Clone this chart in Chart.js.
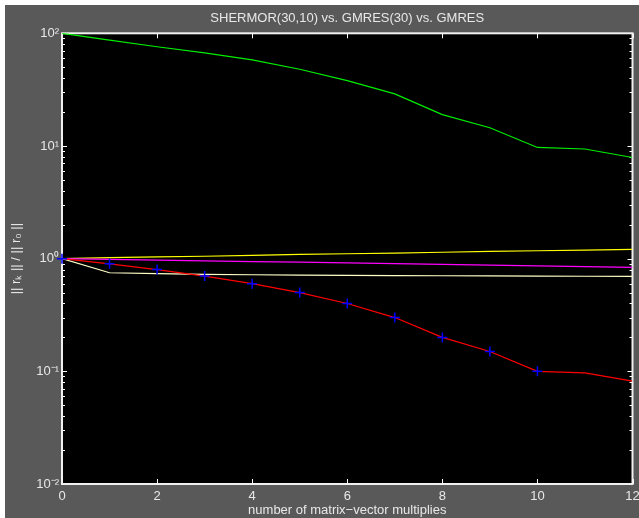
<!DOCTYPE html>
<html>
<head>
<meta charset="utf-8">
<script src="https://cdn.jsdelivr.net/npm/chart.js@4/dist/chart.umd.min.js"></script>
<style>
html,body{margin:0;padding:0;background:#fff;}
#wrap{width:639px;height:518px;position:relative;}
</style>
</head>
<body>
<div id="wrap"><canvas id="c" width="639" height="518"></canvas></div>
<script>
// ---- data ----
const iterations = [0,1,2,3,4,5,6,7,8,9,10,11,12];
const shermorGreen = [100, 87, 76, 67, 58, 48, 38, 29, 19, 14.5, 9.7, 9.4, 7.9];
const gmresYellow = [1.0, 1.02, 1.035, 1.05, 1.07, 1.09, 1.105, 1.12, 1.14, 1.16, 1.175, 1.19, 1.21];
const gmresMagenta = [1.0, 0.985, 0.97, 0.955, 0.94, 0.93, 0.918, 0.905, 0.89, 0.875, 0.862, 0.85, 0.838];
const gmresCream = [1.0, 0.75, 0.735, 0.725, 0.72, 0.715, 0.71, 0.708, 0.705, 0.703, 0.7, 0.698, 0.695];
const redLine = [1.0, 0.9, 0.8, 0.7, 0.6, 0.5, 0.4, 0.3, 0.2, 0.15, 0.1, 0.097, 0.082];
const markerIters = [0,1,2,3,4,5,6,7,8,9,10];
const markerValues = [1.0, 0.9, 0.8, 0.7, 0.6, 0.5, 0.4, 0.3, 0.2, 0.15, 0.1];
const xTickValues = [0,2,4,6,8,10,12];
const yMajorTicks = [0.01, 0.1, 1, 10, 100];
const yTickLabels = ['10⁻²','10⁻¹','10⁰','10¹','10²'];
const titleText = 'SHERMOR(30,10) vs. GMRES(30) vs. GMRES';
const xTitle = 'number of matrix−vector multiplies';
const yTitle = '|| rₖ || / || r₀ ||';

const pts = (xs, ys) => xs.map((x,i)=>({x:x, y:ys[i]}));
const yMinor = [];
yMajorTicks.slice(0,-1).forEach(d=>{ for(let m=2;m<=9;m++) yMinor.push(d*m); });

const FG = '#e8e8e8';
const BG = '#595959';
const FONT = 'Liberation Sans, Arial, sans-serif';

const framePlugin = {
  id:'frame',
  beforeDraw(chart){
    const ctx = chart.ctx, a = chart.chartArea;
    ctx.save();
    ctx.fillStyle = '#ffffff';
    ctx.fillRect(0,0,chart.width,chart.height);
    ctx.fillStyle = BG;
    ctx.fillRect(5,5,chart.width-5,chart.height-5);
    ctx.fillStyle = '#000000';
    ctx.fillRect(a.left,a.top,a.right-a.left,a.bottom-a.top);
    ctx.restore();
  },
  beforeDatasetsDraw(chart){
    const ctx = chart.ctx, a = chart.chartArea;
    const xs = chart.scales.x, ys = chart.scales.y;
    ctx.save();
    ctx.strokeStyle = '#ffffff';
    ctx.lineWidth = 1;
    ctx.beginPath();
    xTickValues.forEach(v=>{
      const px = Math.round(xs.getPixelForValue(v))+0.5;
      ctx.moveTo(px,a.bottom); ctx.lineTo(px,a.bottom-5);
      ctx.moveTo(px,a.top); ctx.lineTo(px,a.top+5);
    });
    yMajorTicks.forEach(v=>{
      const py = Math.round(ys.getPixelForValue(v))+0.5;
      ctx.moveTo(a.left,py); ctx.lineTo(a.left+5,py);
      ctx.moveTo(a.right,py); ctx.lineTo(a.right-5,py);
    });
    yMinor.forEach(v=>{
      const py = Math.round(ys.getPixelForValue(v))+0.5;
      ctx.moveTo(a.left,py); ctx.lineTo(a.left+3,py);
      ctx.moveTo(a.right,py); ctx.lineTo(a.right-3,py);
    });
    ctx.stroke();
    ctx.lineWidth = 2;
    ctx.strokeStyle = '#f0f0f0';
    ctx.strokeRect(a.left, a.top, a.right-a.left, a.bottom-a.top);
    ctx.restore();
  }
};

new Chart(document.getElementById('c'), {
  type:'line',
  data:{
    datasets:[
      {data:pts(iterations, shermorGreen), borderColor:'#00ee00', borderWidth:1.2, pointRadius:0, tension:0, order:5},
      {data:pts(iterations, gmresYellow), borderColor:'#ffff00', borderWidth:1.2, pointRadius:0, tension:0, order:4},
      {data:pts(iterations, gmresMagenta), borderColor:'#ff00ff', borderWidth:1.2, pointRadius:0, tension:0, order:3},
      {data:pts(iterations, gmresCream), borderColor:'#ffffc8', borderWidth:1.2, pointRadius:0, tension:0, order:2},
      {data:pts(iterations, redLine), borderColor:'#ff0000', borderWidth:1.2, pointRadius:0, tension:0, order:1},
      {data:pts(markerIters, markerValues), showLine:false, clip:false, pointStyle:'cross', pointRadius:5, pointBorderWidth:1.5, borderColor:'#0000ff', backgroundColor:'#0000ff', order:0}
    ]
  },
  options:{
    responsive:false,
    animation:false,
    devicePixelRatio:1,
    layout:{padding:{left:5,top:5,right:6,bottom:0}},
    plugins:{
      legend:{display:false},
      tooltip:{enabled:false},
      title:{display:false}
    },
    scales:{
      xTop:{
        type:'linear', position:'top', min:0, max:12,
        ticks:{display:false},
        grid:{display:false, drawTicks:false},
        border:{display:false},
        title:{display:true, text:titleText, color:FG, font:{family:FONT, size:13, weight:'normal'}, padding:{top:6,bottom:0}},
        afterFit(s){ s.height = 28.3; s.paddingLeft = 0; s.paddingRight = 0; }
      },
      x:{
        type:'linear', position:'bottom', min:0, max:12,
        afterBuildTicks(s){ s.ticks = xTickValues.map(v=>({value:v})); },
        ticks:{color:FG, font:{family:FONT, size:13}, padding:5, maxRotation:0, autoSkip:false},
        grid:{display:false, drawTicks:false},
        border:{display:false},
        title:{display:true, text:xTitle, color:FG, font:{family:FONT, size:13}, padding:{top:0,bottom:0}},
        afterFit(s){ s.height = 34; s.paddingLeft = 0; s.paddingRight = 0; }
      },
      y:{
        type:'logarithmic', min:0.01, max:100,
        afterBuildTicks(s){ s.ticks = yMajorTicks.map(v=>({value:v})); },
        ticks:{color:FG, font:{family:FONT, size:13}, padding:3, autoSkip:false,
          callback(v){ const i = yMajorTicks.findIndex(t=>Math.abs(t-v)/t<1e-6); return i>=0 ? yTickLabels[i] : ''; }},
        grid:{display:false, drawTicks:false},
        border:{display:false},
        title:{display:true, text:yTitle, color:FG, font:{family:FONT, size:13}, padding:{top:4,bottom:0}},
        afterFit(s){ s.width = 57; s.paddingTop = 0; s.paddingBottom = 0; }
      }
    }
  },
  plugins:[framePlugin]
});
</script>
</body>
</html>
